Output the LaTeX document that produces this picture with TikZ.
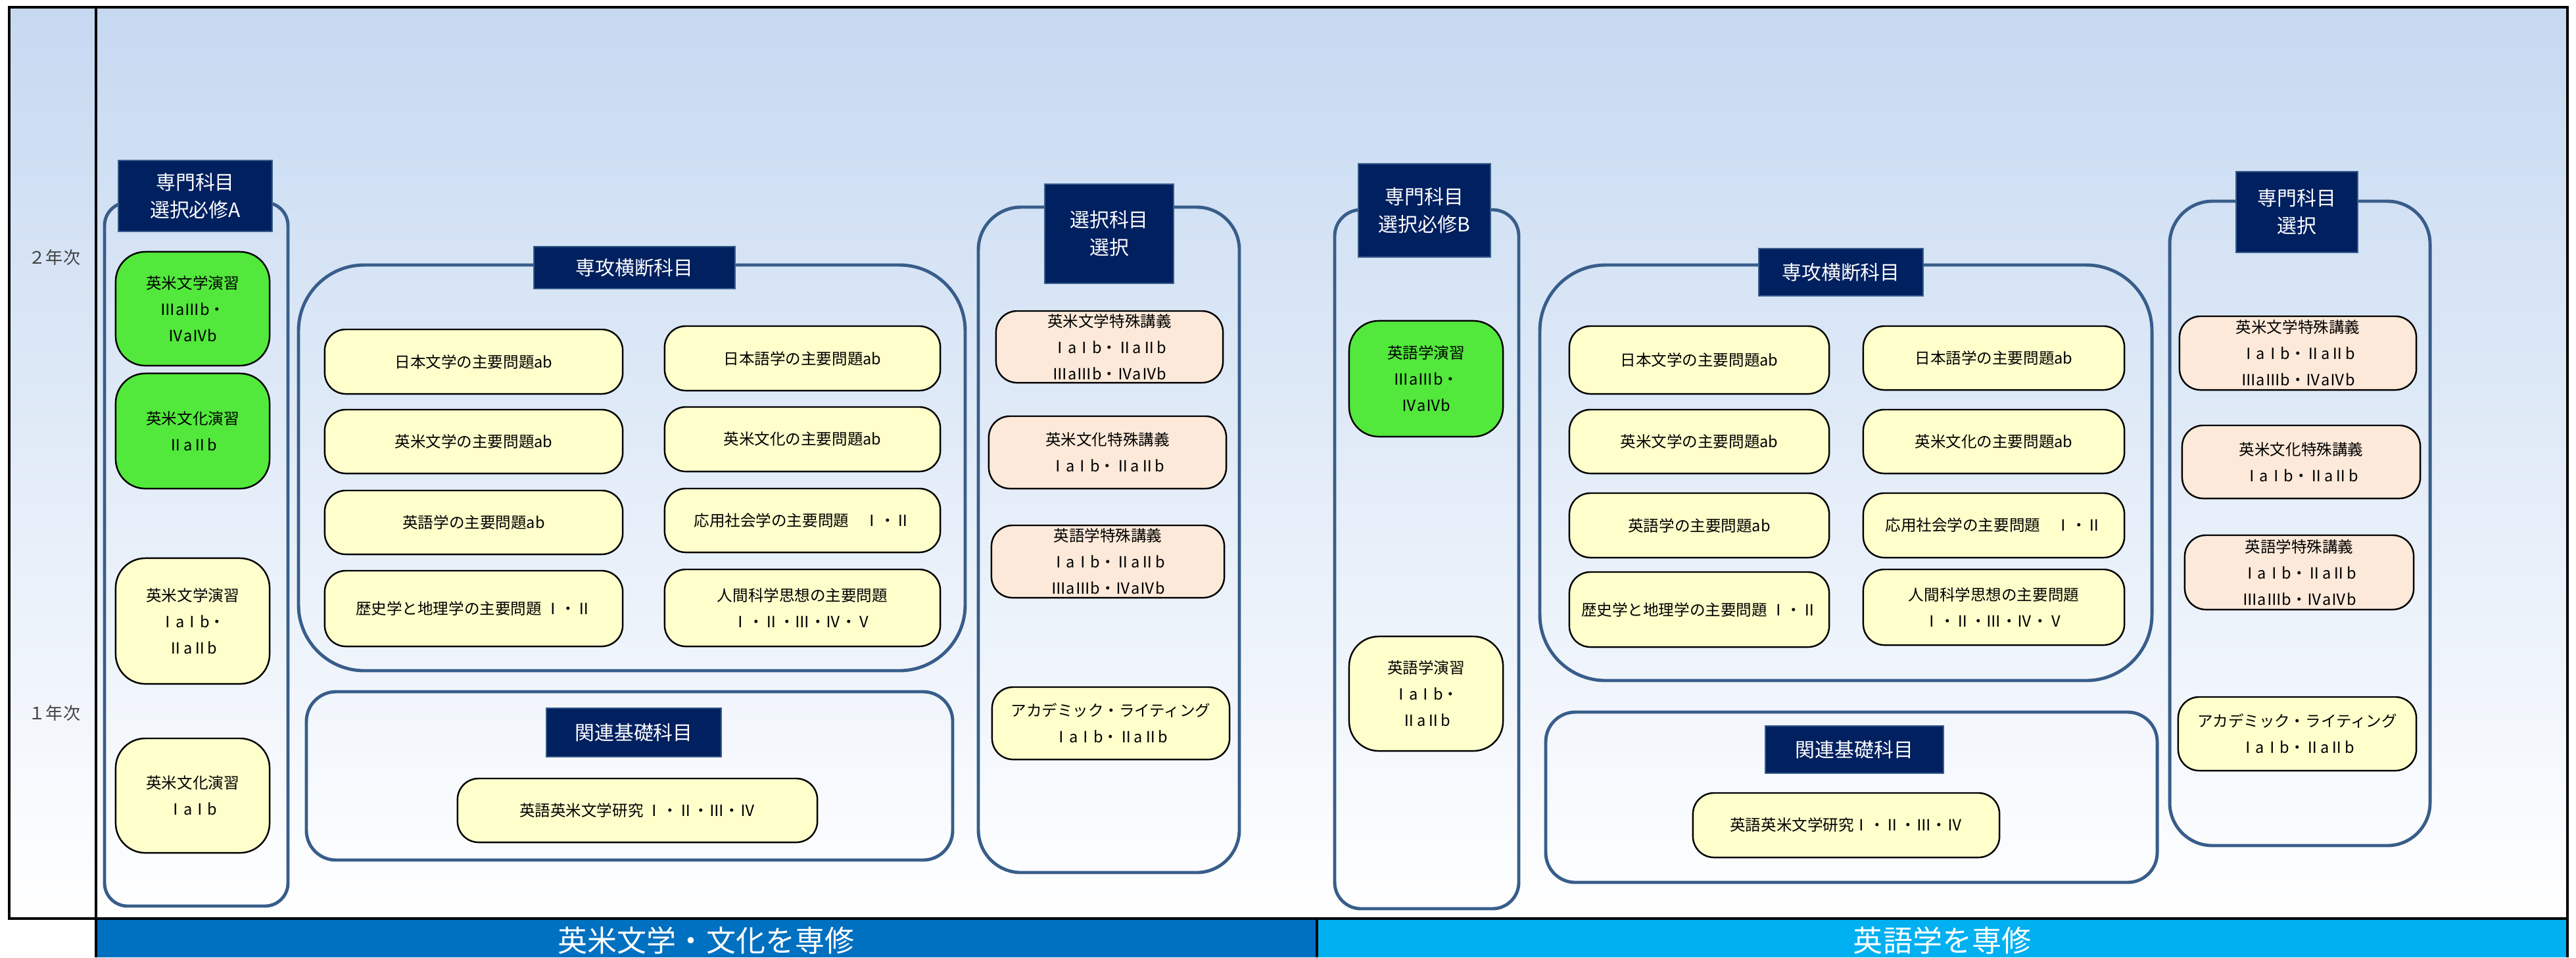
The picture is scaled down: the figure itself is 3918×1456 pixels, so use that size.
\documentclass[tikz,border=0pt]{standalone}
\usepackage{fontspec}
\setmainfont{Noto Sans CJK JP}
\definecolor{navy}{HTML}{002060}
\definecolor{grpblue}{HTML}{385D8A}
\definecolor{subjyellow}{HTML}{FFFFCC}
\definecolor{reqgreen}{HTML}{52E83C}
\definecolor{specpeach}{HTML}{FDE9D9}
\definecolor{bandA}{HTML}{0070C0}
\definecolor{bandB}{HTML}{00B0F0}
\definecolor{bgtop}{HTML}{C6D9F1}
\definecolor{yeargray}{HTML}{404040}
\tikzset{
	frameline/.style={draw=black, line width=1pt},
	grp/.style={draw=grpblue, line width=1.4pt},
	head/.style={fill=navy, draw=grpblue, line width=0.5pt, text=white, align=center, inner sep=0pt, font=\fontsize{8.5pt}{12pt}\selectfont},
	subj/.style={draw=black, line width=0.7pt, fill=subjyellow, align=center, inner sep=0pt, rounded corners=0.32cm, font=\fontsize{6.7pt}{11.4pt}\selectfont},
	req/.style={subj, fill=reqgreen, rounded corners=0.45cm},
	spec/.style={subj, fill=specpeach},
	yearlbl/.style={text=yeargray, font=\fontsize{7.4pt}{9pt}\selectfont},
	bandlbl/.style={text=white, font=\fontsize{12.8pt}{14pt}\selectfont}
}
\begin{document}
\begin{tikzpicture}[x=0.01cm, y=-0.01cm]
	\useasboundingbox[fill=white] (0,0) rectangle (3918,1456);
	\shade[top color=bgtop, bottom color=white] (14,11) rectangle (3905,1397);
	\fill[bandA] (146,1397) rectangle (2003,1456);
	\fill[bandB] (2003,1397) rectangle (3905,1456);
	\draw[frameline] (14,11) rectangle (3905,1397);
	\draw[frameline] (146,11) -- (146,1456);
	\draw[frameline] (2003,1397) -- (2003,1456);
	\draw[frameline] (3905,1397) -- (3905,1456);
	\node[yearlbl] (year2) at (83,392) {２年次};
	\node[yearlbl] (year1) at (83,1085) {１年次};
	\node[bandlbl] (bandlitA) at (1074,1430) {英米文学・文化を専修};
	\node[bandlbl] (bandlingB) at (2954,1430) {英語学を専修};

	\draw[grp, rounded corners=0.35cm] (159,308) rectangle (438,1378);
	\node[head, minimum width=2.34cm, minimum height=1.08cm] (reqAhead) at (297,298) {専門科目\\選択必修A};
	\node[req, minimum width=2.34cm, minimum height=1.73cm] (reqA1) at (293,469.5) {英米文学演習\\ⅢaⅢb・\\ⅣaⅣb};
	\node[req, minimum width=2.34cm, minimum height=1.75cm] (reqA2) at (293,655.5) {英米文化演習\\ⅡaⅡb};
	\node[subj, rounded corners=0.45cm, minimum width=2.34cm, minimum height=1.91cm] (reqA3) at (293,944.5) {英米文学演習\\ⅠaⅠb・\\ⅡaⅡb};
	\node[subj, rounded corners=0.45cm, minimum width=2.34cm, minimum height=1.74cm] (reqA4) at (293,1210) {英米文化演習\\ⅠaⅠb};

	\draw[grp, rounded corners=1cm] (454,403) rectangle (1468,1020);
	\node[head, minimum width=3.06cm, minimum height=0.64cm] (crossAhead) at (965,407) {専攻横断科目};
	\node[subj, minimum width=4.53cm, minimum height=0.98cm] (crossA1) at (720.5,550) {日本文学の主要問題ab};
	\node[subj, minimum width=4.53cm, minimum height=0.97cm] (crossA2) at (720.5,671.5) {英米文学の主要問題ab};
	\node[subj, minimum width=4.53cm, minimum height=0.97cm] (crossA3) at (720.5,794.5) {英語学の主要問題ab};
	\node[subj, minimum width=4.53cm, minimum height=1.15cm] (crossA4) at (720.5,925.5) {歴史学と地理学の主要問題\ Ⅰ・Ⅱ};
	\node[subj, minimum width=4.19cm, minimum height=0.98cm] (crossA5) at (1220.5,545) {日本語学の主要問題ab};
	\node[subj, minimum width=4.19cm, minimum height=0.98cm] (crossA6) at (1220.5,668) {英米文化の主要問題ab};
	\node[subj, minimum width=4.19cm, minimum height=0.97cm] (crossA7) at (1220.5,791.5) {応用社会学の主要問題　Ⅰ・Ⅱ};
	\node[subj, minimum width=4.19cm, minimum height=1.17cm] (crossA8) at (1220.5,924.5) {人間科学思想の主要問題\\Ⅰ・Ⅱ・Ⅲ・Ⅳ・Ⅴ};

	\draw[grp, rounded corners=0.45cm] (466,1052) rectangle (1449,1308);
	\node[head, minimum width=2.66cm, minimum height=0.74cm] (basicAhead) at (964,1114) {関連基礎科目};
	\node[subj, minimum width=5.47cm, minimum height=0.97cm] (basicA1) at (969.5,1232.5) {英語英米文学研究\ Ⅰ・Ⅱ・Ⅲ・Ⅳ};

	\draw[grp, rounded corners=0.65cm] (1488,315) rectangle (1885,1327);
	\node[head, minimum width=1.96cm, minimum height=1.51cm] (electAhead) at (1687,355.5) {選択科目\\選択};
	\node[spec, minimum width=3.45cm, minimum height=1.09cm] (electA1) at (1687.5,527.5) {英米文学特殊講義\\ⅠaⅠb・ⅡaⅡb\\ⅢaⅢb・ⅣaⅣb};
	\node[spec, minimum width=3.61cm, minimum height=1.10cm] (electA2) at (1684.5,688) {英米文化特殊講義\\ⅠaⅠb・ⅡaⅡb};
	\node[spec, minimum width=3.54cm, minimum height=1.10cm] (electA3) at (1685,854) {英語学特殊講義\\ⅠaⅠb・ⅡaⅡb\\ⅢaⅢb・ⅣaⅣb};
	\node[subj, minimum width=3.61cm, minimum height=1.10cm] (electA4) at (1689.5,1100) {アカデミック・ライティング\\ⅠaⅠb・ⅡaⅡb};

	\draw[grp, rounded corners=0.4cm] (2030,319) rectangle (2310,1382);
	\node[head, minimum width=2.01cm, minimum height=1.42cm] (reqBhead) at (2166.5,320) {専門科目\\選択必修B};
	\node[req, minimum width=2.34cm, minimum height=1.76cm] (reqB1) at (2169,576) {英語学演習\\ⅢaⅢb・\\ⅣaⅣb};
	\node[subj, rounded corners=0.45cm, minimum width=2.34cm, minimum height=1.74cm] (reqB2) at (2169,1055) {英語学演習\\ⅠaⅠb・\\ⅡaⅡb};

	\draw[grp, rounded corners=1cm] (2342,403) rectangle (3273,1035);
	\node[head, minimum width=2.5cm, minimum height=0.72cm] (crossBhead) at (2800,414) {専攻横断科目};
	\node[subj, minimum width=3.95cm, minimum height=1.03cm] (crossB1) at (2584.5,547.5) {日本文学の主要問題ab};
	\node[subj, minimum width=3.95cm, minimum height=0.97cm] (crossB2) at (2584.5,671.5) {英米文学の主要問題ab};
	\node[subj, minimum width=3.95cm, minimum height=0.98cm] (crossB3) at (2584.5,799) {英語学の主要問題ab};
	\node[subj, minimum width=3.95cm, minimum height=1.14cm] (crossB4) at (2584.5,927) {歴史学と地理学の主要問題 Ⅰ・Ⅱ};
	\node[subj, minimum width=3.97cm, minimum height=0.97cm] (crossB5) at (3032.5,544.5) {日本語学の主要問題ab};
	\node[subj, minimum width=3.97cm, minimum height=0.97cm] (crossB6) at (3032.5,671.5) {英米文化の主要問題ab};
	\node[subj, minimum width=3.97cm, minimum height=0.98cm] (crossB7) at (3032.5,799) {応用社会学の主要問題　Ⅰ・Ⅱ};
	\node[subj, minimum width=3.97cm, minimum height=1.15cm] (crossB8) at (3032.5,923.5) {人間科学思想の主要問題\\Ⅰ・Ⅱ・Ⅲ・Ⅳ・Ⅴ};

	\draw[grp, rounded corners=0.45cm] (2351,1083) rectangle (3281,1342);
	\node[head, minimum width=2.71cm, minimum height=0.72cm] (basicBhead) at (2820.5,1140) {関連基礎科目};
	\node[subj, minimum width=4.66cm, minimum height=0.98cm] (basicB1) at (2808,1255) {英語英米文学研究Ⅰ・Ⅱ・Ⅲ・Ⅳ};

	\draw[grp, rounded corners=0.65cm] (3300,306) rectangle (3696,1286);
	\node[head, minimum width=1.85cm, minimum height=1.23cm] (electBhead) at (3493.5,322.5) {専門科目\\選択};
	\node[spec, minimum width=3.60cm, minimum height=1.12cm] (electB1) at (3495,537) {英米文学特殊講義\\ⅠaⅠb・ⅡaⅡb\\ⅢaⅢb・ⅣaⅣb};
	\node[spec, minimum width=3.62cm, minimum height=1.11cm] (electB2) at (3500,702.5) {英米文化特殊講義\\ⅠaⅠb・ⅡaⅡb};
	\node[spec, minimum width=3.48cm, minimum height=1.13cm] (electB3) at (3497,870.5) {英語学特殊講義\\ⅠaⅠb・ⅡaⅡb\\ⅢaⅢb・ⅣaⅣb};
	\node[subj, minimum width=3.62cm, minimum height=1.12cm] (electB4) at (3494,1116) {アカデミック・ライティング\\ⅠaⅠb・ⅡaⅡb};
\end{tikzpicture}
\end{document}
